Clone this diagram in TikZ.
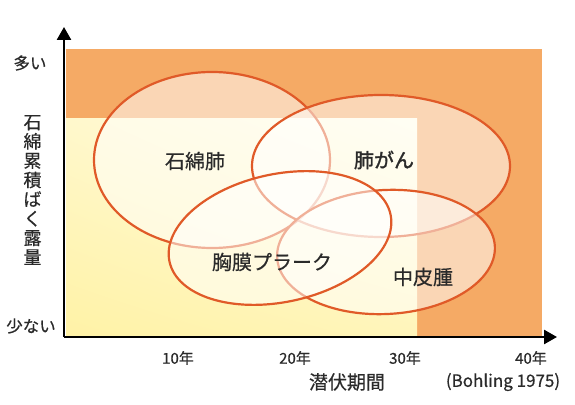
\documentclass[tikz,border=0pt]{standalone}
\usepackage{fontspec}
\setmainfont{Noto Sans CJK JP}
\newfontfamily\jpmed[FakeBold=0.5]{Noto Sans CJK JP}
\newfontfamily\jpheavy[FakeBold=1.6]{Noto Sans CJK JP}
\usetikzlibrary{arrows.meta,shadings}
\definecolor{bgorange}{HTML}{F5AA65}
\definecolor{ered}{HTML}{E05A28}
\definecolor{txt}{HTML}{2A2A2A}
\definecolor{yll}{HTML}{FFF2A6}
\definecolor{yul}{HTML}{FFF8CC}
\definecolor{ylr}{HTML}{FFF5BA}
\definecolor{yur}{HTML}{FFFDE8}
\tikzset{
  disease/.style={fill=white,fill opacity=0.52,draw=ered,line width=2.2pt},
  lab/.style={text=txt,font=\jpmed\fontsize{20}{23}\selectfont,inner sep=0pt},
  axlab/.style={text=txt,font=\jpmed\fontsize{15}{18}\selectfont,inner sep=0pt},
  endlab/.style={text=txt,font=\jpmed\fontsize{16.5}{19}\selectfont,inner sep=0pt},
  axisline/.style={line width=2.5pt,black,-{Triangle[width=14pt,length=13pt]}}
}
\begin{document}
\begin{tikzpicture}[x=1pt,y=1pt]
\useasboundingbox (0,0) rectangle (575,404);
% backgrounds
\fill[bgorange] (66,67) rectangle (542,355);
\shade[lower left=yll,upper left=yul,lower right=ylr,upper right=yur] (66,67) rectangle (417,285);
% ellipses (order 1,2,4,3)
\draw[disease] (212,244) ellipse [x radius=118, y radius=88];
\draw[disease] (381,238) ellipse [x radius=129, y radius=71];
\draw[disease, rotate around={3:(386,152)}] (386,152) ellipse [x radius=109, y radius=62];
\draw[disease, rotate around={12:(280,166)}] (280,166) ellipse [x radius=113, y radius=64];
% labels
\node[lab] (asb) at (195,243) {石綿肺};
\node[lab,font=\jpheavy\fontsize{20}{23}\selectfont] (lung) at (384,244) {肺がん};
\node[lab] (pleu) at (272,142) {胸膜プラーク};
\node[lab] (meso) at (423,127) {中皮腫};
% axes
\coordinate (o) at (64,67);
\coordinate (ytop) at (64,377);
\coordinate (xend) at (557,67);
\draw[axisline] (o) -- (ytop);
\draw[axisline] (o) -- (xend);
% axis labels
\node[endlab] (many) at (30,341) {多い};
\node[endlab] (few) at (31,78) {少ない};
\node[text=txt,font=\jpmed\fontsize{18}{19.3}\selectfont,inner sep=0pt,align=center] (ylab) at (32.5,214) {石\\綿\\累\\積\\ば\\く\\露\\量};
\node[axlab] (t10) at (178,46) {10年};
\node[axlab] (t20) at (295,46) {20年};
\node[axlab] (t30) at (405,46) {30年};
\node[axlab] (t40) at (531,46) {40年};
\node[text=txt,font=\jpmed\fontsize{19}{22}\selectfont,inner sep=0pt] (xlab) at (347,22) {潜伏期間};
\node[text=txt,font=\jpmed\fontsize{17}{20}\selectfont,inner sep=0pt] (src) at (503,22) {(Bohling 1975)};
\end{tikzpicture}
\end{document}
